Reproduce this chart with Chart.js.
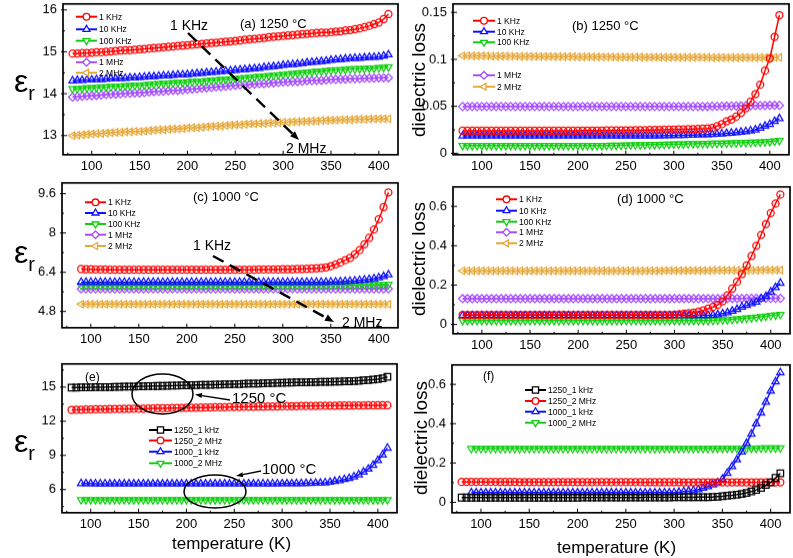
<!DOCTYPE html>
<html>
<head>
<meta charset="utf-8">
<script src="https://cdn.jsdelivr.net/npm/chart.js@4.4.0/dist/chart.umd.min.js"></script>
<style>
body { margin:0; background:#fff; width:793px; height:558px; position:relative; overflow:hidden; font-family:"Liberation Sans", Arial, sans-serif; }
.wrap { position:absolute; line-height:0; }
.t { position:absolute; white-space:nowrap; color:#000; line-height:1; transform:translateY(-50%); }
.rot { position:absolute; white-space:nowrap; color:#000; line-height:1; transform:translate(-50%,-50%) rotate(-90deg); }
#overlay { position:absolute; left:0; top:0; pointer-events:none; }
</style>
</head>
<body>
<div id="pa" class="wrap"><canvas id="ca"></canvas></div>
<div id="pb" class="wrap"><canvas id="cb"></canvas></div>
<div id="pc" class="wrap"><canvas id="cc"></canvas></div>
<div id="pd" class="wrap"><canvas id="cd"></canvas></div>
<div id="pe" class="wrap"><canvas id="ce"></canvas></div>
<div id="pf" class="wrap"><canvas id="cf"></canvas></div>
<canvas id="overlay" width="793" height="558"></canvas>

<!-- axis titles -->
<div class="t" style="left:14px;top:84px;font-size:32px">ε<sub style="font-size:20px">r</sub></div>
<div class="t" style="left:14px;top:255px;font-size:32px">ε<sub style="font-size:20px">r</sub></div>
<div class="t" style="left:14px;top:444px;font-size:32px">ε<sub style="font-size:20px">r</sub></div>
<div class="rot" style="left:418px;top:80px;font-size:19px">dielectric loss</div>
<div class="rot" style="left:418px;top:259px;font-size:19px">dielectric loss</div>
<div class="rot" style="left:420px;top:438px;font-size:19px">dielectric loss</div>
<div class="t" style="left:172px;top:543px;font-size:17px">temperature (K)</div>
<div class="t" style="left:557px;top:547px;font-size:17px">temperature (K)</div>

<!-- panel labels and notes -->
<div class="t" style="left:240px;top:23px;font-size:13px">(a) 1250 °C</div>
<div class="t" style="left:170px;top:25px;font-size:14px">1 KHz</div>
<div class="t" style="left:286px;top:148px;font-size:14px">2 MHz</div>
<div class="t" style="left:572px;top:25px;font-size:13px">(b) 1250 °C</div>
<div class="t" style="left:193px;top:196px;font-size:13px">(c) 1000 °C</div>
<div class="t" style="left:193px;top:245px;font-size:14px">1 KHz</div>
<div class="t" style="left:342px;top:322px;font-size:14px">2 MHz</div>
<div class="t" style="left:617px;top:198px;font-size:13px">(d) 1000 °C</div>
<div class="t" style="left:85px;top:377px;font-size:12px">(e)</div>
<div class="t" style="left:232px;top:397px;font-size:15px">1250 °C</div>
<div class="t" style="left:262px;top:468px;font-size:15px">1000 °C</div>
<div class="t" style="left:483px;top:376px;font-size:12px">(f)</div>

<script>
// temperature (K)
const T1250 = [80,85,90,95,100,105,110,115,120,125,130,135,140,145,150,155,160,165,170,175,
  180,185,190,195,200,205,210,215,220,225,230,235,240,245,250,255,260,265,270,275,
  280,285,290,295,300,305,310,315,320,325,330,335,340,345,350,355,360,365,370,375,
  380,385,390,395,400,405,410];
const T1000 = [90,95,100,105,110,115,120,125,130,135,140,145,150,155,160,165,170,175,180,185,
  190,195,200,205,210,215,220,225,230,235,240,245,250,255,260,265,270,275,280,285,
  290,295,300,305,310,315,320,325,330,335,340,345,350,355,360,365,370,375,380,385,
  390,395,400,405,410];
// panel (d) is drawn from 80 K, like the 1250 C panels
const TlossD = [80,85,90,95,100,105,110,115,120,125,130,135,140,145,150,155,160,165,170,175,
  180,185,190,195,200,205,210,215,220,225,230,235,240,245,250,255,260,265,270,275,
  280,285,290,295,300,305,310,315,320,325,330,335,340,345,350,355,360,365,370,375,
  380,385,390,395,400,405,410];

const xTicks = [100,150,200,250,300,350,400];
const xMinor = [75,125,175,225,275,325,375];

// (a) 1250 C, permittivity
const eps1250_1k = [14.96,14.96,14.97,14.97,14.98,14.99,14.99,15.00,15.01,15.02,
  15.03,15.04,15.04,15.05,15.06,15.07,15.08,15.09,15.10,15.11,
  15.12,15.13,15.14,15.15,15.16,15.17,15.18,15.19,15.20,15.21,
  15.22,15.23,15.24,15.25,15.26,15.27,15.29,15.30,15.31,15.32,
  15.33,15.35,15.36,15.37,15.38,15.39,15.40,15.41,15.42,15.43,
  15.44,15.45,15.46,15.46,15.47,15.48,15.49,15.51,15.52,15.54,
  15.56,15.59,15.62,15.66,15.70,15.78,15.90];
const eps1250_10k = [14.31,14.32,14.32,14.33,14.33,14.34,14.34,14.35,14.36,14.36,
  14.37,14.37,14.38,14.38,14.39,14.40,14.41,14.41,14.42,14.43,
  14.43,14.44,14.45,14.45,14.46,14.47,14.48,14.49,14.50,14.51,
  14.52,14.53,14.54,14.55,14.56,14.57,14.58,14.59,14.60,14.61,
  14.63,14.64,14.65,14.66,14.68,14.69,14.70,14.71,14.72,14.74,
  14.75,14.76,14.77,14.78,14.80,14.81,14.82,14.83,14.84,14.85,
  14.85,14.86,14.87,14.87,14.88,14.90,14.93];
const eps1250_100k = [14.12,14.12,14.13,14.14,14.14,14.15,14.16,14.16,14.17,14.18,
  14.18,14.19,14.19,14.20,14.20,14.21,14.22,14.23,14.24,14.25,
  14.25,14.26,14.27,14.27,14.28,14.29,14.30,14.30,14.31,14.32,
  14.33,14.34,14.34,14.35,14.36,14.37,14.38,14.39,14.40,14.41,
  14.42,14.43,14.44,14.45,14.46,14.47,14.48,14.49,14.50,14.51,
  14.52,14.53,14.54,14.55,14.56,14.57,14.57,14.58,14.59,14.59,
  14.60,14.60,14.61,14.61,14.62,14.63,14.64];
const eps1250_1M = [13.92,13.93,13.94,13.95,13.95,13.96,13.97,13.98,13.99,13.99,
  14.00,14.01,14.01,14.02,14.02,14.03,14.04,14.05,14.06,14.06,
  14.07,14.08,14.08,14.09,14.10,14.11,14.12,14.13,14.14,14.15,
  14.16,14.17,14.18,14.19,14.20,14.21,14.21,14.22,14.23,14.24,
  14.24,14.25,14.26,14.27,14.28,14.28,14.29,14.29,14.30,14.31,
  14.31,14.32,14.32,14.33,14.34,14.34,14.35,14.35,14.36,14.36,
  14.36,14.37,14.37,14.37,14.38,14.38,14.38];
const eps1250_2M = [13.00,13.01,13.02,13.03,13.04,13.05,13.05,13.06,13.07,13.08,
  13.08,13.09,13.09,13.10,13.10,13.11,13.12,13.13,13.14,13.14,
  13.15,13.16,13.16,13.17,13.18,13.19,13.19,13.20,13.21,13.22,
  13.23,13.23,13.24,13.25,13.26,13.26,13.27,13.28,13.28,13.29,
  13.29,13.30,13.30,13.31,13.32,13.32,13.33,13.33,13.34,13.34,
  13.35,13.35,13.36,13.36,13.37,13.37,13.38,13.38,13.38,13.39,
  13.39,13.39,13.40,13.40,13.40,13.40,13.40];

// (b) 1250 C, loss
const loss1250_1k = [0.024,0.024,0.024,0.024,0.024,0.024,0.024,0.024,0.024,0.024,
  0.024,0.024,0.024,0.024,0.024,0.024,0.024,0.024,0.024,0.024,
  0.024,0.024,0.024,0.024,0.024,0.0242,0.0242,0.0242,0.0242,0.0242,
  0.0243,0.0243,0.0244,0.0244,0.0245,0.0245,0.0246,0.0246,0.0247,0.0248,
  0.0249,0.025,0.0251,0.0252,0.0253,0.0254,0.0255,0.0256,0.0258,0.026,
  0.0262,0.0265,0.027,0.029,0.031,0.034,0.036,0.039,0.043,0.048,
  0.055,0.063,0.073,0.088,0.101,0.124,0.147];
const loss1250_10k = [0.0185,0.0185,0.0185,0.0185,0.0185,0.0185,0.0185,0.0185,0.0185,0.0185,
  0.0185,0.0185,0.0185,0.0185,0.0185,0.0185,0.0185,0.0185,0.0185,0.0185,
  0.0185,0.0185,0.0185,0.0185,0.0185,0.0185,0.0185,0.0185,0.0185,0.0185,
  0.0185,0.0185,0.0185,0.0185,0.0185,0.0185,0.0185,0.0185,0.0185,0.0185,
  0.0186,0.0187,0.0188,0.0189,0.019,0.0191,0.0192,0.0193,0.0194,0.0196,
  0.0198,0.02,0.0202,0.0205,0.0208,0.0212,0.0216,0.022,0.0226,0.0232,
  0.024,0.025,0.027,0.029,0.031,0.034,0.037];
const loss1250_100k = [0.0082,0.0082,0.0082,0.0082,0.0082,0.0082,0.0082,0.0082,0.0082,0.0082,
  0.0082,0.0082,0.0082,0.0082,0.0082,0.0082,0.0082,0.0082,0.0082,0.0082,
  0.0082,0.0082,0.0082,0.0082,0.0082,0.0082,0.0082,0.0082,0.0082,0.0082,
  0.0083,0.0084,0.0085,0.0086,0.0087,0.0088,0.0089,0.009,0.0091,0.0092,
  0.0093,0.0094,0.0095,0.0096,0.0097,0.0098,0.0099,0.01,0.0101,0.0102,
  0.0103,0.0104,0.0105,0.0106,0.0107,0.0108,0.011,0.0111,0.0113,0.0114,
  0.0116,0.0118,0.012,0.0122,0.0125,0.013,0.0135];
const loss1250_1M = [0.0498,0.0498,0.0498,0.0498,0.0498,0.0498,0.0498,0.0498,0.0498,0.0498,
  0.0498,0.0498,0.0498,0.0498,0.0498,0.0498,0.0498,0.0498,0.0498,0.0498,
  0.0498,0.0498,0.0498,0.0498,0.0498,0.0498,0.0498,0.0498,0.0498,0.0498,
  0.0498,0.0498,0.0498,0.0498,0.0498,0.0498,0.0498,0.0498,0.0498,0.0498,
  0.0498,0.0498,0.0498,0.0498,0.0498,0.0498,0.0498,0.0498,0.0498,0.0498,
  0.0499,0.0499,0.05,0.05,0.0501,0.0502,0.0503,0.0504,0.0505,0.0506,
  0.0507,0.0508,0.0508,0.0509,0.051,0.051,0.0511];
const loss1250_2M = [0.1038,0.1038,0.1037,0.1037,0.1036,0.1036,0.1035,0.1035,0.1034,0.1034,
  0.1033,0.1033,0.1032,0.1032,0.1031,0.1031,0.103,0.103,0.103,0.1029,
  0.1029,0.1028,0.1028,0.1028,0.1027,0.1027,0.1026,0.1026,0.1026,0.1025,
  0.1025,0.1025,0.1024,0.1024,0.1024,0.1023,0.1023,0.1023,0.1022,0.1022,
  0.1022,0.1022,0.1021,0.1021,0.1021,0.1021,0.102,0.102,0.102,0.102,
  0.102,0.102,0.1019,0.1019,0.1019,0.1019,0.1019,0.1019,0.1019,0.1019,
  0.1019,0.1019,0.1019,0.1019,0.102,0.102,0.102];

// (c) 1000 C, permittivity
const eps1000_1k = [6.53,6.52,6.52,6.51,6.51,6.51,6.50,6.50,6.50,6.50,
  6.50,6.50,6.50,6.50,6.50,6.50,6.50,6.50,6.50,6.50,
  6.50,6.50,6.50,6.50,6.50,6.50,6.50,6.50,6.50,6.50,
  6.50,6.50,6.50,6.50,6.50,6.50,6.50,6.51,6.51,6.51,
  6.51,6.51,6.52,6.52,6.52,6.53,6.53,6.54,6.55,6.56,
  6.57,6.60,6.65,6.72,6.80,6.89,6.98,7.13,7.30,7.54,
  7.80,8.14,8.56,9.05,9.65];
const eps1000_10k = [6.00,6.00,6.00,6.00,6.00,6.00,6.00,6.00,6.00,6.00,
  6.00,6.00,6.00,6.00,6.00,6.00,6.00,6.00,6.00,6.00,
  6.00,6.00,6.00,6.00,6.00,6.00,6.00,6.00,6.00,6.00,
  6.00,6.00,6.00,6.00,6.00,6.00,6.00,6.00,6.00,6.00,
  6.00,6.00,6.00,6.00,6.00,6.00,6.00,6.00,6.00,6.00,
  6.00,6.00,6.01,6.01,6.02,6.03,6.04,6.05,6.07,6.09,
  6.11,6.14,6.18,6.23,6.30];
const eps1000_100k = [5.86,5.86,5.86,5.86,5.86,5.86,5.86,5.86,5.86,5.86,
  5.86,5.86,5.86,5.86,5.86,5.86,5.86,5.86,5.86,5.86,
  5.86,5.86,5.86,5.86,5.86,5.86,5.86,5.86,5.86,5.86,
  5.86,5.86,5.86,5.86,5.86,5.86,5.86,5.86,5.86,5.86,
  5.86,5.86,5.86,5.86,5.86,5.87,5.87,5.87,5.87,5.87,
  5.87,5.87,5.87,5.88,5.88,5.88,5.88,5.88,5.89,5.89,
  5.89,5.89,5.90,5.90,5.90];
const eps1000_1M = [5.72,5.72,5.72,5.72,5.72,5.72,5.72,5.72,5.72,5.72,
  5.72,5.72,5.72,5.72,5.72,5.72,5.72,5.72,5.72,5.72,
  5.72,5.72,5.72,5.72,5.72,5.72,5.72,5.72,5.72,5.72,
  5.72,5.72,5.72,5.72,5.72,5.72,5.72,5.72,5.72,5.72,
  5.72,5.72,5.72,5.72,5.72,5.72,5.72,5.72,5.72,5.72,
  5.72,5.72,5.72,5.72,5.72,5.72,5.72,5.72,5.72,5.72,
  5.72,5.72,5.72,5.72,5.72];
const eps1000_2M = [5.10,5.10,5.10,5.10,5.10,5.10,5.10,5.10,5.10,5.10,
  5.10,5.10,5.10,5.10,5.10,5.10,5.10,5.10,5.10,5.10,
  5.10,5.10,5.10,5.10,5.10,5.10,5.10,5.10,5.10,5.10,
  5.10,5.10,5.10,5.10,5.10,5.10,5.10,5.10,5.10,5.10,
  5.10,5.10,5.10,5.10,5.10,5.10,5.10,5.10,5.10,5.10,
  5.10,5.10,5.10,5.10,5.10,5.10,5.10,5.10,5.10,5.10,
  5.10,5.10,5.10,5.10,5.10];

// (d) 1000 C, loss (80..410 K)
const loss1000_1k = [0.049,0.049,0.049,0.049,0.049,0.049,0.049,0.049,0.049,0.049,
  0.049,0.049,0.049,0.049,0.049,0.049,0.049,0.049,0.049,0.049,
  0.049,0.049,0.049,0.049,0.049,0.049,0.049,0.049,0.049,0.049,
  0.049,0.049,0.049,0.049,0.049,0.049,0.049,0.049,0.049,0.049,
  0.049,0.049,0.049,0.049,0.05,0.052,0.055,0.057,0.06,0.065,
  0.072,0.08,0.089,0.1,0.118,0.148,0.182,0.217,0.256,0.3,
  0.348,0.4,0.455,0.51,0.566,0.614,0.66];
const loss1000_10k = [0.046,0.046,0.046,0.046,0.046,0.046,0.046,0.046,0.046,0.046,
  0.046,0.046,0.046,0.046,0.046,0.046,0.046,0.046,0.046,0.046,
  0.046,0.046,0.046,0.046,0.046,0.046,0.046,0.046,0.046,0.046,
  0.046,0.046,0.046,0.046,0.046,0.046,0.046,0.046,0.046,0.046,
  0.046,0.046,0.046,0.046,0.046,0.046,0.046,0.046,0.046,0.046,
  0.046,0.047,0.048,0.05,0.055,0.06,0.068,0.077,0.089,0.097,
  0.106,0.114,0.131,0.143,0.165,0.188,0.21];
const loss1000_100k = [0.02,0.02,0.02,0.02,0.02,0.02,0.02,0.02,0.02,0.02,
  0.02,0.02,0.02,0.02,0.02,0.02,0.02,0.02,0.02,0.02,
  0.02,0.02,0.02,0.02,0.02,0.02,0.02,0.02,0.02,0.02,
  0.02,0.02,0.02,0.02,0.02,0.02,0.02,0.02,0.02,0.02,
  0.02,0.02,0.02,0.02,0.02,0.02,0.02,0.02,0.02,0.02,
  0.02,0.02,0.021,0.022,0.023,0.024,0.026,0.028,0.03,0.032,
  0.034,0.036,0.039,0.042,0.045,0.048,0.051];
const loss1000_1M = [0.131,0.131,0.131,0.131,0.131,0.131,0.131,0.131,0.131,0.131,
  0.131,0.131,0.131,0.131,0.131,0.131,0.131,0.131,0.131,0.131,
  0.131,0.131,0.131,0.131,0.131,0.131,0.131,0.131,0.131,0.131,
  0.131,0.131,0.131,0.131,0.131,0.131,0.131,0.131,0.131,0.131,
  0.131,0.131,0.131,0.131,0.131,0.131,0.131,0.131,0.131,0.131,
  0.131,0.131,0.131,0.131,0.132,0.132,0.132,0.132,0.132,0.133,
  0.133,0.133,0.133,0.133,0.133,0.133,0.133];
const loss1000_2M = [0.273,0.273,0.273,0.273,0.273,0.273,0.273,0.273,0.273,0.273,
  0.273,0.273,0.273,0.273,0.273,0.273,0.273,0.273,0.273,0.273,
  0.273,0.273,0.273,0.273,0.273,0.273,0.273,0.273,0.273,0.273,
  0.273,0.273,0.273,0.273,0.273,0.273,0.273,0.273,0.273,0.273,
  0.273,0.273,0.274,0.274,0.274,0.274,0.274,0.274,0.274,0.274,
  0.274,0.274,0.275,0.275,0.275,0.275,0.275,0.275,0.275,0.275,
  0.275,0.275,0.276,0.276,0.276,0.276,0.276];

const freqLabels = ['1 KHz', '10 KHz', '100 KHz', '1 MHz', '2 MHz'];
const mixLabels = ['1250_1 kHz', '1250_2 MHz', '1000_1 kHz', '1000_2 MHz'];

const FONT = '"Liberation Sans", Arial, sans-serif';
const RED = '#ff0000', BLUE = '#1010ff', GREEN = '#10d010', PURPLE = '#a54dff', ORANGE = '#e5a83a', BLACK = '#000000';
const YW = 46, XH = 22, PT = 6, PR = 8;

// marker styles: [pointStyle, rotation, radius]
const CIRC = ['circle', 0, 3.5], UP = ['triangle', 0, 4.2], DOWN = ['triangle', 180, 4.2],
      DIAM = ['rectRot', 0, 4.0], LEFT = ['triangle', -90, 4.2], SQ = ['rect', 0, 4.6];

function ds(xs, ys, color, m) {
  return {
    data: xs.map((x, i) => ({ x: x, y: ys[i] })),
    borderColor: color, backgroundColor: 'rgba(0,0,0,0)', borderWidth: 1.5,
    pointStyle: m[0], pointRotation: m[1], pointRadius: m[2],
    pointBorderColor: color, pointBackgroundColor: 'rgba(0,0,0,0)', pointBorderWidth: 1.25,
    tension: 0
  };
}

const framePlugin = {
  id: 'frame',
  afterDraw(chart, args, opts) {
    const ctx = chart.ctx, a = chart.chartArea, x = chart.scales.x, y = chart.scales.y;
    ctx.save();
    ctx.strokeStyle = '#000';
    ctx.lineWidth = 1;
    ctx.beginPath();
    xTicks.forEach(v => { const p = x.getPixelForValue(v); ctx.moveTo(p, a.bottom); ctx.lineTo(p, a.bottom - 4); });
    xMinor.forEach(v => { const p = x.getPixelForValue(v); ctx.moveTo(p, a.bottom); ctx.lineTo(p, a.bottom - 2); });
    opts.yt.forEach(v => { const p = y.getPixelForValue(v); ctx.moveTo(a.left - 2, p); ctx.lineTo(a.left + 4, p); });
    opts.ym.forEach(v => { const p = y.getPixelForValue(v); ctx.moveTo(a.left, p); ctx.lineTo(a.left + 2, p); });
    ctx.stroke();
    ctx.lineWidth = 1.7;
    ctx.strokeRect(a.left, a.top, a.right - a.left, a.bottom - a.top);
    ctx.restore();
  }
};

function makeChart(wrapId, canvasId, box, yr, yt, ym, datasets) {
  const [L, T, R, B] = box;
  const W = R - L + YW + PR;
  let H = B - T + PT + XH;
  const wrap = document.getElementById(wrapId);
  const cv = document.getElementById(canvasId);
  cv.width = W; cv.height = H;
  cv.style.width = W + 'px'; cv.style.height = H + 'px';
  const chart = new Chart(cv, {
    type: 'line',
    data: { datasets: datasets },
    options: {
      responsive: false,
      maintainAspectRatio: false,
      animation: false,
      layout: { padding: { top: PT, right: PR, left: 0, bottom: 0 }, autoPadding: false },
      plugins: { legend: { display: false }, tooltip: { enabled: false }, frame: { yt: yt, ym: ym } },
      scales: {
        x: {
          type: 'linear', min: 70, max: 420,
          grid: { display: false, drawTicks: false }, border: { display: false },
          afterBuildTicks: s => { s.ticks = xTicks.map(v => ({ value: v })); },
          afterFit: s => { s.height = XH; },
          ticks: { font: { family: FONT, size: 13 }, color: '#000', padding: 4, maxRotation: 0, autoSkip: false }
        },
        y: {
          type: 'linear', min: yr[0], max: yr[1],
          grid: { display: false, drawTicks: false }, border: { display: false },
          afterBuildTicks: s => { s.ticks = yt.map(v => ({ value: v })); },
          afterFit: s => { s.width = YW; },
          ticks: { font: { family: FONT, size: 13 }, color: '#000', padding: 6, autoSkip: false, callback: v => String(v) }
        }
      }
    },
    plugins: [framePlugin]
  });
  const short = (B - T) - (chart.chartArea.bottom - chart.chartArea.top);
  if (short !== 0) {
    H += short;
    chart.resize(W, H);
  }
  wrap.style.left = (L - chart.chartArea.left) + 'px';
  wrap.style.top = (T - chart.chartArea.top) + 'px';
  return chart;
}

makeChart('pa', 'ca', [63, 4, 398, 154], [12.544, 16.144], [13, 14, 15, 16], [13.5, 14.5, 15.5], [
  ds(T1250, eps1250_1k, RED, CIRC), ds(T1250, eps1250_10k, BLUE, UP), ds(T1250, eps1250_100k, GREEN, DOWN),
  ds(T1250, eps1250_1M, PURPLE, DIAM), ds(T1250, eps1250_2M, ORANGE, LEFT)]);
makeChart('pb', 'cb', [453, 4, 789, 154], [-0.0015, 0.159], [0, 0.05, 0.1, 0.15], [0.025, 0.075, 0.125], [
  ds(T1250, loss1250_1k, RED, CIRC), ds(T1250, loss1250_10k, BLUE, UP), ds(T1250, loss1250_100k, GREEN, DOWN),
  ds(T1250, loss1250_1M, PURPLE, DIAM), ds(T1250, loss1250_2M, ORANGE, LEFT)]);
makeChart('pc', 'cc', [62, 183, 398, 327], [4.14, 10.04], [4.8, 6.4, 8, 9.6], [5.6, 7.2, 8.8], [
  ds(T1000, eps1000_1k, RED, CIRC), ds(T1000, eps1000_10k, BLUE, UP), ds(T1000, eps1000_100k, GREEN, DOWN),
  ds(T1000, eps1000_1M, PURPLE, DIAM), ds(T1000, eps1000_2M, ORANGE, LEFT)]);
makeChart('pd', 'cd', [453, 187, 790, 333], [-0.047, 0.699], [0, 0.2, 0.4, 0.6], [0.1, 0.3, 0.5], [
  ds(TlossD, loss1000_1k, RED, CIRC), ds(TlossD, loss1000_10k, BLUE, UP), ds(TlossD, loss1000_100k, GREEN, DOWN),
  ds(TlossD, loss1000_1M, PURPLE, DIAM), ds(TlossD, loss1000_2M, ORANGE, LEFT)]);
makeChart('pe', 'ce', [62, 364, 397, 512], [3.96, 17.04], [6, 9, 12, 15], [4.5, 7.5, 10.5, 13.5, 16.5], [
  ds(T1250, eps1250_1k, BLACK, SQ), ds(T1250, eps1250_2M, RED, CIRC),
  ds(T1000, eps1000_1k, BLUE, UP), ds(T1000, eps1000_2M, GREEN, DOWN)]);
// in (f) the 1000 C curves start at 90 K, so the first two readings of (d) are left out
makeChart('pf', 'cf', [452, 365, 790, 512], [-0.053, 0.699], [0, 0.2, 0.4, 0.6], [0.1, 0.3, 0.5], [
  ds(T1250, loss1250_1k, BLACK, SQ), ds(T1250, loss1250_2M, RED, CIRC),
  ds(T1000, loss1000_1k.slice(2), BLUE, UP), ds(T1000, loss1000_2M.slice(2), GREEN, DOWN)]);

// ---- overlay: legends, arrows, ellipses ----
const ov = document.getElementById('overlay').getContext('2d');

function marker(ctx, m, x, y) {
  const r = m[2] * 0.95;
  let rad = m[1] * Math.PI / 180;
  ctx.beginPath();
  if (m[0] === 'circle') {
    ctx.arc(x, y, r, 0, Math.PI * 2);
  } else if (m[0] === 'triangle') {
    for (let k = 0; k < 3; k++) {
      const px = x + Math.sin(rad) * r, py = y - Math.cos(rad) * r;
      if (k === 0) ctx.moveTo(px, py); else ctx.lineTo(px, py);
      rad += Math.PI * 2 / 3;
    }
    ctx.closePath();
  } else if (m[0] === 'rectRot') {
    ctx.moveTo(x - r, y); ctx.lineTo(x, y - r); ctx.lineTo(x + r, y); ctx.lineTo(x, y + r); ctx.closePath();
  } else {
    const s = r * Math.SQRT1_2;
    ctx.rect(x - s, y - s, 2 * s, 2 * s);
  }
  ctx.fill();
  ctx.stroke();
}

function legend(x1, x2, ys, labels, colors, marks, size) {
  ys.forEach((y, i) => {
    ov.save();
    ov.strokeStyle = colors[i];
    ov.lineWidth = 2;
    ov.beginPath(); ov.moveTo(x1, y); ov.lineTo(x2, y); ov.stroke();
    ov.fillStyle = '#fff';
    ov.lineWidth = 1.3;
    marker(ov, marks[i], (x1 + x2) / 2, y);
    ov.restore();
    const d = document.createElement('div');
    d.className = 't';
    d.style.left = (x2 + 2) + 'px';
    d.style.top = y + 'px';
    d.style.fontSize = size + 'px';
    d.textContent = labels[i];
    document.body.appendChild(d);
  });
}

const fiveColors = [RED, BLUE, GREEN, PURPLE, ORANGE];
const fiveMarks = [CIRC, UP, DOWN, DIAM, LEFT];
const fourColors = [BLACK, RED, BLUE, GREEN];
const fourMarks = [SQ, CIRC, UP, DOWN];
legend(76, 97, [16.7, 29.3, 40.7, 62.3, 72.7], freqLabels, fiveColors, fiveMarks, 8.5);
legend(473, 495, [20.7, 31.7, 42.3, 75.3, 86.7], freqLabels, fiveColors, fiveMarks, 8.5);
legend(85, 106, [202.3, 213, 224, 234.7, 246], freqLabels, fiveColors, fiveMarks, 8.5);
legend(496, 517, [199.3, 210.7, 221.7, 232.3, 243.3], freqLabels, fiveColors, fiveMarks, 8.5);
legend(149, 172, [430, 440.5, 451.7, 463.3], mixLabels, fourColors, fourMarks, 8.5);
legend(525, 546, [390, 401, 411.7, 422.7], mixLabels, fourColors, fourMarks, 8.5);

function arrow(x1, y1, x2, y2, lw, dash, hl, hw) {
  const ang = Math.atan2(y2 - y1, x2 - x1);
  const bx = x2 - Math.cos(ang) * hl, by = y2 - Math.sin(ang) * hl;
  ov.save();
  ov.strokeStyle = '#000'; ov.fillStyle = '#000'; ov.lineWidth = lw;
  ov.setLineDash(dash);
  ov.beginPath(); ov.moveTo(x1, y1); ov.lineTo(bx, by); ov.stroke();
  ov.setLineDash([]);
  ov.beginPath();
  ov.moveTo(x2, y2);
  ov.lineTo(bx - Math.sin(ang) * hw, by + Math.cos(ang) * hw);
  ov.lineTo(bx + Math.sin(ang) * hw, by - Math.cos(ang) * hw);
  ov.closePath(); ov.fill();
  ov.restore();
}

arrow(188, 33, 299, 140, 2.4, [12, 7], 9, 3.5);
arrow(213, 256, 334, 322, 2.4, [12, 7], 9, 3.5);
arrow(230, 400, 195, 394.5, 1.3, [], 7, 2.5);
arrow(261, 471, 236, 476, 1.3, [], 7, 2.5);

ov.save();
ov.strokeStyle = '#000'; ov.lineWidth = 1.5;
ov.beginPath(); ov.ellipse(162.5, 394, 30.5, 20, 0, 0, Math.PI * 2); ov.stroke();
ov.beginPath(); ov.ellipse(215, 491.5, 31, 16.5, 0, 0, Math.PI * 2); ov.stroke();
ov.restore();
</script>
</body>
</html>
